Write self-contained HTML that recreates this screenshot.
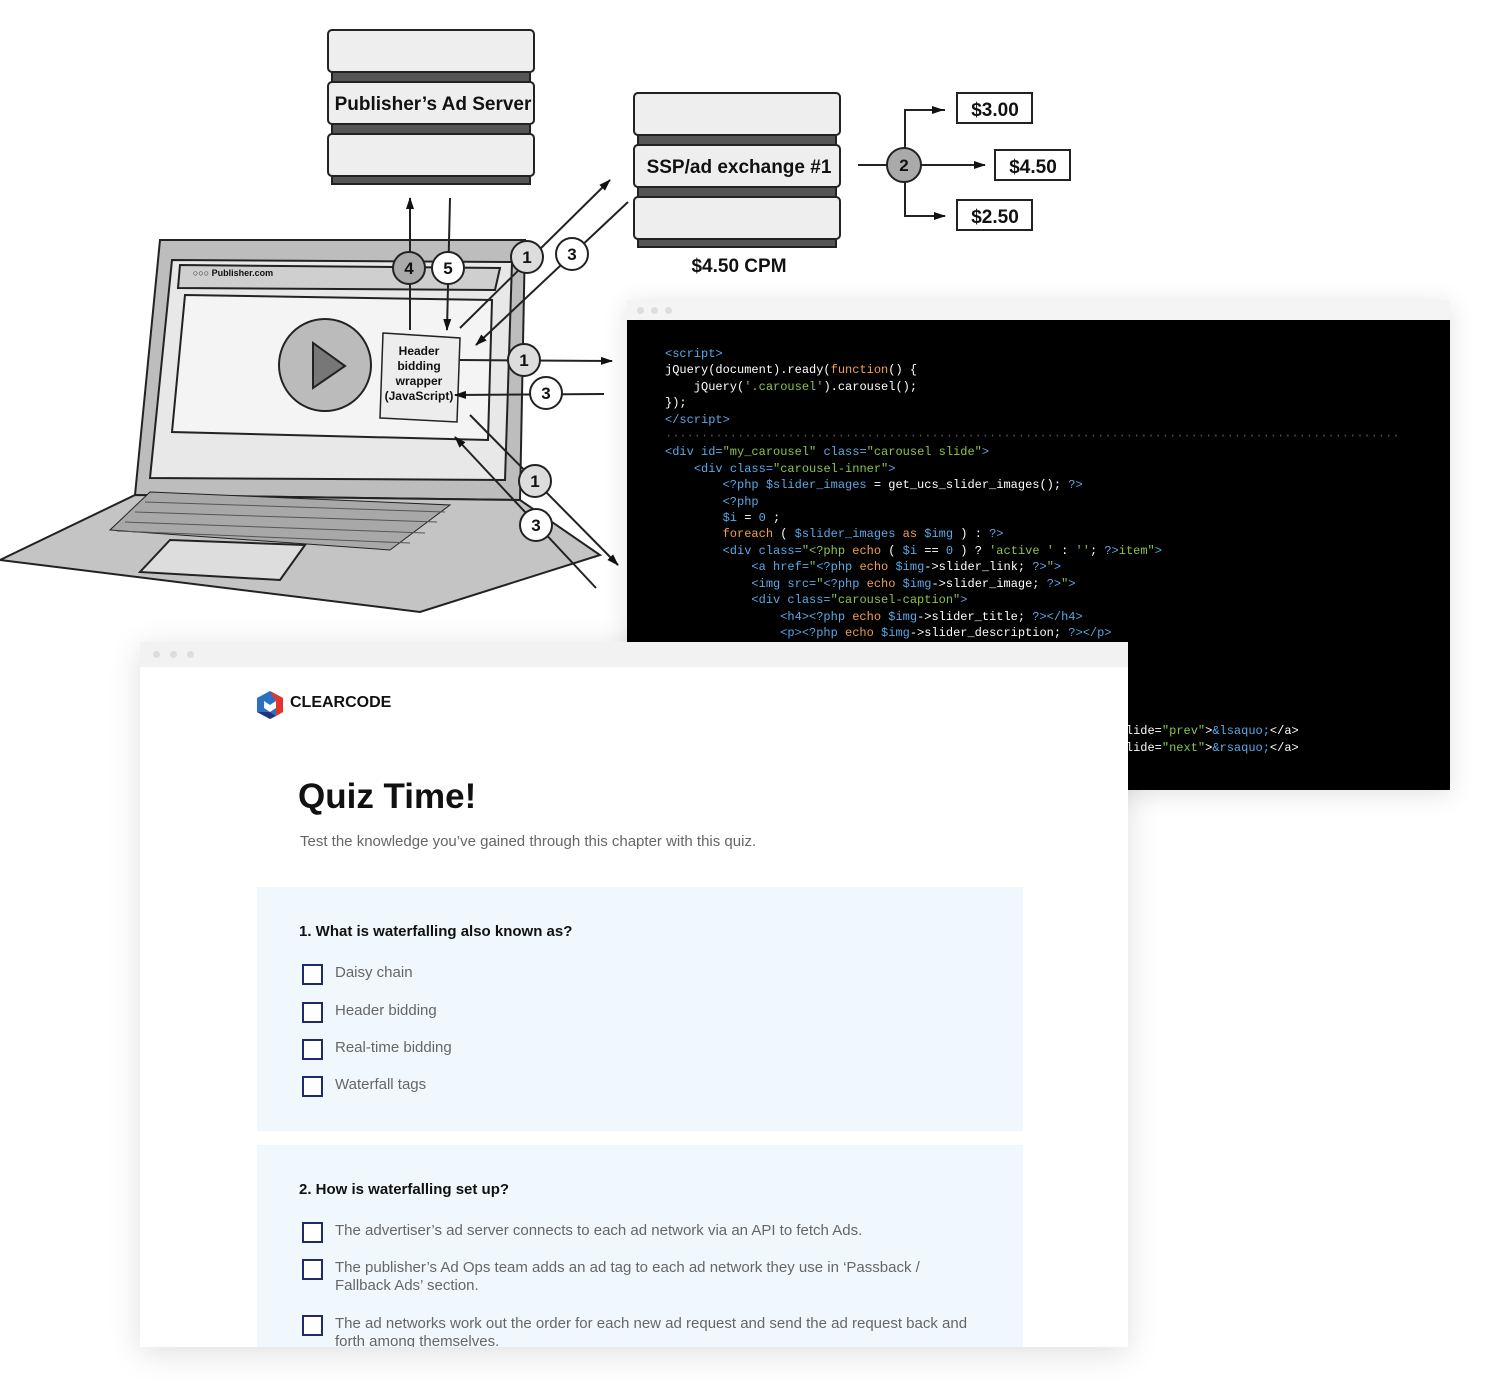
<!DOCTYPE html>
<html><head><meta charset="utf-8"><style>
body{margin:0;width:1500px;height:1397px;background:#fff;position:relative;overflow:hidden;font-family:"Liberation Sans",sans-serif}
svg.top{position:absolute;left:0;top:0}
.code{position:absolute;left:627px;top:300px;width:823px;height:490px;box-shadow:0 4px 24px rgba(0,0,0,.12)}
.code .bar{height:20px;background:#f4f4f4;position:relative}
.dots i{position:absolute;width:7px;height:7px;border-radius:50%;background:#ddd;top:7px}
.code .body{background:#000;height:470px;position:relative}
pre{margin:0;position:absolute;left:38px;top:26px;font-family:"Liberation Mono",monospace;font-size:12px;line-height:16.4px;color:#fff}
.b{color:#5aa9e6}.g{color:#8bc34a}.o{color:#f0a050}
.quiz{position:absolute;left:140px;top:642px;width:988px;height:705px;background:#fff;box-shadow:0 6px 30px rgba(0,0,0,.13);overflow:hidden}
.quiz .bar{height:25px;background:#f2f2f2;position:relative}
.box{position:absolute;left:117px;width:766px;background:#f0f8fd}
.q{position:absolute;left:42px;font-size:15px;font-weight:bold;color:#111}
.opt{position:absolute;left:45px;font-size:15px;color:#666;line-height:18px}
.opt:before{content:"";position:absolute;left:0;top:0;width:17px;height:17px;border:2px solid #1f2a6b;background:#fff}
.opt span{display:block;margin-left:33px}
</style></head><body>
<svg class="top" width="1500" height="640" viewBox="0 0 1500 640">
<defs><marker id="a" markerUnits="userSpaceOnUse" markerWidth="12" markerHeight="10" refX="11" refY="5" orient="auto"><path d="M0,1 L12,5 L0,9z" fill="#111"/></marker></defs>
<g stroke="#222" stroke-width="2">
<polygon points="160,240 525,240 520,500 135,495" fill="#bdbdbd"/>
<polygon points="172,260 512,262 505,480 150,478" fill="#e8e8e8"/>
<polygon points="180,265 500,268 495,290 178,288" fill="#cfcfcf"/>
<polygon points="185,295 492,300 488,440 172,432" fill="#f4f4f4"/>
<polygon points="135,495 520,500 600,555 420,612 0,560" fill="#c4c4c4"/>
<polygon points="150,492 450,505 390,550 110,530" fill="#a8a8a8" stroke-width="1"/>
<g stroke="#555" stroke-width="1"><line x1="145" y1="502" x2="445" y2="512"/><line x1="135" y1="512" x2="437" y2="522"/><line x1="125" y1="522" x2="425" y2="533"/><line x1="117" y1="531" x2="410" y2="543"/></g>
<polygon points="170,540 305,545 280,580 140,572" fill="#ddd"/>
<circle cx="325" cy="365" r="46" fill="#bbb"/>
<polygon points="313,343 313,388 345,366" fill="#777"/>
<polygon points="383,333 460,338 457,422 380,418" fill="#ededed" stroke-width="1.5"/>
<g fill="#eee">
<rect x="328" y="30" width="206" height="42" rx="4"/><rect x="328" y="82" width="206" height="42" rx="4"/><rect x="328" y="134" width="206" height="42" rx="4"/>
<rect x="634" y="93" width="206" height="42" rx="4"/><rect x="634" y="145" width="206" height="42" rx="4"/><rect x="634" y="197" width="206" height="42" rx="4"/>
</g>
<g fill="#555"><rect x="332" y="72" width="198" height="10"/><rect x="332" y="124" width="198" height="10"/><rect x="332" y="176" width="198" height="8"/>
<rect x="638" y="135" width="198" height="10"/><rect x="638" y="187" width="198" height="10"/><rect x="638" y="239" width="198" height="8"/></g>
<g fill="none">
<line x1="410" y1="330" x2="410" y2="198" marker-end="url(#a)"/>
<line x1="450" y1="198" x2="447" y2="330" marker-end="url(#a)"/>
<line x1="460" y1="328" x2="610" y2="180" marker-end="url(#a)"/>
<line x1="628" y1="202" x2="476" y2="345" marker-end="url(#a)"/>
<line x1="460" y1="360" x2="612" y2="361" marker-end="url(#a)"/>
<line x1="604" y1="394" x2="455" y2="395" marker-end="url(#a)"/>
<line x1="470" y1="415" x2="618" y2="565" marker-end="url(#a)"/>
<line x1="596" y1="588" x2="455" y2="437" marker-end="url(#a)"/>
<line x1="858" y1="165" x2="985" y2="165" marker-end="url(#a)"/>
<polyline points="945,110 905,110 905,216 945,216"/>
<line x1="905" y1="110" x2="943" y2="110" marker-end="url(#a)"/>
<line x1="905" y1="216" x2="945" y2="216" marker-end="url(#a)"/>
</g>
<g fill="#fff"><rect x="957" y="93" width="75" height="30"/><rect x="995" y="150" width="75" height="30"/><rect x="957" y="200" width="75" height="30"/></g>
<g fill="#aaa"><circle cx="409" cy="268" r="16"/><circle cx="904" cy="165" r="17"/></g>
<g fill="#ddd"><circle cx="527" cy="257" r="16"/><circle cx="524" cy="360" r="16"/><circle cx="535" cy="481" r="16"/></g>
<g fill="#fff"><circle cx="448" cy="268" r="16"/><circle cx="572" cy="254" r="16"/><circle cx="546" cy="393" r="16"/><circle cx="536" cy="525" r="16"/></g>
</g>
<g font-weight="bold" font-size="19" fill="#111" text-anchor="middle">
<text x="433" y="110">Publisher’s Ad Server</text>
<text x="739" y="173">SSP/ad exchange #1</text>
<text x="739" y="272">$4.50 CPM</text>
<text x="995" y="116">$3.00</text><text x="1033" y="173">$4.50</text><text x="995" y="223">$2.50</text>
<g font-size="17"><text x="409" y="274">4</text><text x="448" y="274">5</text><text x="904" y="171">2</text>
<text x="527" y="263">1</text><text x="572" y="260">3</text><text x="524" y="366">1</text><text x="546" y="399">3</text><text x="535" y="487">1</text><text x="536" y="531">3</text></g>
<g font-size="12"><text x="419" y="355">Header</text><text x="419" y="370">bidding</text><text x="419" y="385">wrapper</text><text x="419" y="400">(JavaScript)</text></g>
<text x="233" y="276" font-size="9" text-anchor="middle">○○○ Publisher.com</text>
</g>
</svg>
<div class="code"><div class="bar dots"><i style="left:10px"></i><i style="left:24px"></i><i style="left:38px"></i></div>
<div class="body"><pre><span class="b">&lt;script&gt;</span>
jQuery(document).ready(<span class="o">function</span>() {
    jQuery(<span class="g">'.carousel'</span>).carousel();
});
<span class="b">&lt;/script&gt;</span>
<span style="color:#555">······································································································</span>
<span class="b">&lt;div id=</span><span class="g">"my_carousel"</span> <span class="b">class=</span><span class="g">"carousel slide"</span><span class="b">&gt;</span>
    <span class="b">&lt;div class=</span><span class="g">"carousel-inner"</span><span class="b">&gt;</span>
        <span class="b">&lt;?php $slider_images</span> = get_ucs_slider_images(); <span class="b">?&gt;</span>
        <span class="b">&lt;?php</span>
        <span class="b">$i</span> = <span class="b">0</span> ;
        <span class="o">foreach</span> ( <span class="b">$slider_images</span> <span class="o">as</span> <span class="b">$img</span> ) : <span class="b">?&gt;</span>
        <span class="b">&lt;div class=</span><span class="g">"&lt;?php</span> <span class="o">echo</span> ( <span class="b">$i</span> == <span class="b">0</span> ) ? <span class="g">'active '</span> : <span class="g">''</span>; <span class="b">?&gt;</span><span class="g">item"</span><span class="b">&gt;</span>
            <span class="b">&lt;a href=</span><span class="g">"</span><span class="b">&lt;?php</span> <span class="o">echo</span> <span class="b">$img</span>-&gt;slider_link; <span class="b">?&gt;</span><span class="g">"</span><span class="b">&gt;</span>
            <span class="b">&lt;img src=</span><span class="g">"</span><span class="b">&lt;?php</span> <span class="o">echo</span> <span class="b">$img</span>-&gt;slider_image; <span class="b">?&gt;</span><span class="g">"</span><span class="b">&gt;</span>
            <span class="b">&lt;div class=</span><span class="g">"carousel-caption"</span><span class="b">&gt;</span>
                <span class="b">&lt;h4&gt;&lt;?php</span> <span class="o">echo</span> <span class="b">$img</span>-&gt;slider_title; <span class="b">?&gt;&lt;/h4&gt;</span>
                <span class="b">&lt;p&gt;&lt;?php</span> <span class="o">echo</span> <span class="b">$img</span>-&gt;slider_description; <span class="b">?&gt;&lt;/p&gt;</span>





                                                               slide=<span class="g">"prev"</span>&gt;<span class="b">&amp;lsaquo;</span>&lt;/a&gt;
                                                               slide=<span class="g">"next"</span>&gt;<span class="b">&amp;rsaquo;</span>&lt;/a&gt;</pre></div></div>
<div class="quiz"><div class="bar dots"><i style="left:13px;top:9px"></i><i style="left:30px;top:9px"></i><i style="left:47px;top:9px"></i></div>
<svg style="position:absolute;left:116px;top:48px" width="28" height="30" viewBox="0 0 28 30"><polygon points="14,1 27,8 27,22 14,29 1,22 1,8" fill="#2b6fc6"/><polygon points="14,1 27,8 27,22 20,26 20,12" fill="#e0362c"/><polygon points="1,22 14,29 20,26 14,22" fill="#2a2f7a"/><polygon points="8,11 14,15 20,11 20,18 14,22 8,18" fill="#fff"/></svg>
<div style="position:absolute;left:150px;top:52px;font-size:16px;font-weight:bold;color:#111">CLEARCODE</div>
<div style="position:absolute;left:158px;top:135px;font-size:35px;font-weight:bold;color:#111">Quiz Time!</div>
<div style="position:absolute;left:160px;top:191px;font-size:15px;color:#666">Test the knowledge you’ve gained through this chapter with this quiz.</div>
<div class="box" style="top:245px;height:244px">
<div class="q" style="top:36px">1. What is waterfalling also known as?</div>
<div class="opt" style="top:77px"><span>Daisy chain</span></div>
<div class="opt" style="top:115px"><span>Header bidding</span></div>
<div class="opt" style="top:152px"><span>Real-time bidding</span></div>
<div class="opt" style="top:189px"><span>Waterfall tags</span></div>
</div>
<div class="box" style="top:503px;height:250px">
<div class="q" style="top:36px">2. How is waterfalling set up?</div>
<div class="opt" style="top:77px"><span>The advertiser’s ad server connects to each ad network via an API to fetch Ads.</span></div>
<div class="opt" style="top:114px;width:640px"><span>The publisher’s Ad Ops team adds an ad tag to each ad network they use in ‘Passback / Fallback Ads’ section.</span></div>
<div class="opt" style="top:170px;width:680px"><span>The ad networks work out the order for each new ad request and send the ad request back and forth among themselves.</span></div>
</div>
</div>
</body></html>
